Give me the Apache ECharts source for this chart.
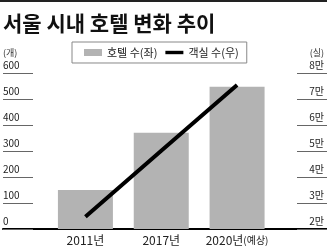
<!DOCTYPE html>
<html><head><meta charset="utf-8">
<script src="https://cdn.jsdelivr.net/npm/echarts@6/dist/echarts.min.js"></script>
<style>html,body{margin:0;padding:0;background:#fff}#c{width:327px;height:248px}</style>
</head><body><div id="c"></div>
<script>
var categories = ['2011년', '2017년', '2020년(예상)'];
var hotelCounts = [150, 370, 547];
var roomCounts = [24700, 50100, 75400];
var leftTicks = [0, 600, 100];
var rightTicks = [20000, 80000, 10000];
var titleText = '서울 시내 호텔 변화 추이';
var seriesNames = ['호텔 수(좌)', '객실 수(우)'];

var FONT = "'Noto Sans CJK KR', 'Liberation Sans', sans-serif";
var chart = echarts.init(document.getElementById('c'), null, {renderer: 'canvas'});
var option = {
  animation: false,
  backgroundColor: '#fff',
  textStyle: {fontFamily: FONT},
  title: {
    text: titleText, left: -2, top: 8,
    textStyle: {fontSize: 21, fontWeight: 'bold', color: '#111', fontFamily: FONT}
  },
  graphic: [{type: 'rect', shape: {x: 0, y: 0, width: 327, height: 2}, style: {fill: '#222'}}],
  legend: {
    left: 72, top: 42, padding: [5, 8, 5, 12], itemGap: 8,
    borderColor: '#888', borderWidth: 1,
    itemWidth: 18, itemHeight: 7,
    textStyle: {fontSize: 11, color: '#222', fontFamily: FONT},
    data: [
      {name: seriesNames[0], icon: 'rect'},
      {name: seriesNames[1], icon: 'path://M0,0H18V3.4H0Z', itemStyle: {color: '#000'}}
    ]
  },
  grid: [
    {left: 0, right: 0, top: 73, bottom: 19},
    {left: 47.5, right: 52, top: 73, bottom: 19}
  ],
  xAxis: [
    {type: 'value', gridIndex: 0, min: 0, max: 1, axisLine: {show: true, onZero: false, lineStyle: {color: '#000', width: 2}},
     axisTick: {show: false}, axisLabel: {show: false}, splitLine: {show: false}},
    {type: 'category', gridIndex: 1, data: categories,
     axisLine: {show: false}, axisTick: {show: false},
     axisLabel: {interval: 0, margin: 5, fontSize: 12, color: '#222', fontFamily: FONT,
       formatter: function (v) {
         var m = v.match(/^(.*년)(\(.*\))$/);
         return m ? m[1] + '{s|' + m[2] + '}' : v;
       },
       rich: {s: {fontSize: 10, color: '#222', fontFamily: FONT}}
     }}
  ],
  yAxis: [
    {type: 'value', gridIndex: 0, position: 'left', min: leftTicks[0], max: leftTicks[1], interval: leftTicks[2],
     name: '(개)', nameGap: 16, nameTextStyle: {fontSize: 9, color: '#333', align: 'left'},
     axisLine: {show: false}, axisTick: {show: true, inside: true, length: 30, lineStyle: {color: '#666', width: 1}},
     axisLabel: {inside: true, margin: 0, align: 'left', verticalAlign: 'bottom', fontSize: 10, color: '#222', padding: [0, 0, 3, 0]},
     splitLine: {show: false}},
    {type: 'value', gridIndex: 0, position: 'right', min: rightTicks[0], max: rightTicks[1], interval: rightTicks[2],
     name: '(실)', nameGap: 16, nameTextStyle: {fontSize: 9, color: '#333', align: 'right', padding: [0, 3, 0, 0]},
     axisLine: {show: false}, axisTick: {show: true, inside: true, length: 30, lineStyle: {color: '#666', width: 1}},
     axisLabel: {inside: true, margin: 3, align: 'right', verticalAlign: 'bottom', fontSize: 10, color: '#222', padding: [0, 0, 3, 0],
       formatter: function (v) { return (v / 10000) + '만'; }},
     splitLine: {show: false}},
    {type: 'value', gridIndex: 1, min: leftTicks[0], max: leftTicks[1], show: false},
    {type: 'value', gridIndex: 1, min: rightTicks[0], max: rightTicks[1], show: false}
  ],
  series: [
    {name: seriesNames[0], type: 'bar', xAxisIndex: 1, yAxisIndex: 2, data: hotelCounts,
     barWidth: 55, itemStyle: {color: '#b3b3b3'}},
    {name: seriesNames[1], type: 'line', xAxisIndex: 1, yAxisIndex: 3, data: roomCounts,
     symbol: 'none', lineStyle: {color: '#000', width: 4}, itemStyle: {color: '#000'}}
  ]
};
chart.setOption(option);
</script></body></html>
